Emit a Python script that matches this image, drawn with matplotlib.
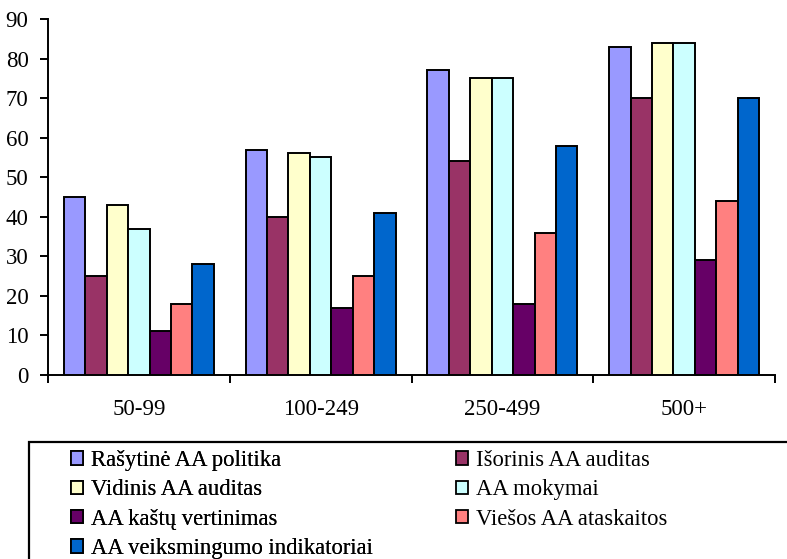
import matplotlib
matplotlib.use("Agg")
import matplotlib.pyplot as plt
import numpy as np
from matplotlib.patches import Rectangle, Patch

categories = ["50-99", "100-249", "250-499", "500+"]
series_names = ["Rašytinė AA politika", "Išorinis AA auditas", "Vidinis AA auditas",
                "AA mokymai", "AA kaštų vertinimas", "Viešos AA ataskaitos",
                "AA veiksmingumo indikatoriai"]
values = [
    [45, 57, 77, 83],
    [25, 40, 54, 70],
    [43, 56, 75, 84],
    [37, 55, 75, 84],
    [11, 17, 18, 29],
    [18, 25, 36, 44],
    [28, 41, 58, 70],
]
colors = ["#9999FF", "#993366", "#FFFFCC", "#CCFFFF", "#660066", "#FF8080", "#0066CC"]
yticks = [0, 10, 20, 30, 40, 50, 60, 70, 80, 90]

plt.rcParams['font.family'] = ['Liberation Serif', 'DejaVu Serif']

W, H = 787, 559
fig = plt.figure(figsize=(W/100, H/100), dpi=100)
ax = fig.add_axes([48/W, 1-375/H, (775-48)/W, (375-19)/H])

n = len(values)
bw = 0.118
x = np.arange(len(categories))
for i, (vals, c) in enumerate(zip(values, colors)):
    off = (i - (n-1)/2) * bw
    ax.bar(x + off, vals, width=bw, color=c, edgecolor='black', linewidth=1.4, zorder=3)

ax.set_xlim(-0.5, len(categories)-0.5)
ax.set_ylim(0, 90)
ax.set_yticks(yticks)
ax.set_xticks(x)
ax.set_xticklabels(categories, fontsize=16.5)
ax.set_xticks(np.arange(-0.5, len(categories)), minor=True)
ax.tick_params(axis='x', which='major', length=0, pad=17)
ax.tick_params(axis='x', which='minor', length=6, width=1.4, direction='out')
ax.tick_params(axis='y', length=6, width=1.4, direction='out', labelsize=16.5, pad=8)
for s in ['top', 'right']:
    ax.spines[s].set_visible(False)
for s in ['left', 'bottom']:
    ax.spines[s].set_linewidth(1.4)

# legend frame
fig.patches.append(Rectangle((29/W, -0.05), 1.0, 1-442/H+0.05, transform=fig.transFigure,
                             fill=False, edgecolor='black', linewidth=1.6))

handles = [Patch(facecolor=c, edgecolor='black', linewidth=1.3) for c in colors]
fs = 16.3
kw = dict(loc='upper left', frameon=False, fontsize=fs, handlelength=0.53,
          handleheight=0.53, handletextpad=0.35, labelspacing=0.37,
          borderaxespad=0, borderpad=0)
col1 = [0, 2, 4, 6]
col2 = [1, 3, 5]
leg1 = fig.legend([handles[i] for i in col1], [series_names[i] for i in col1],
                  bbox_to_anchor=(71/W, 1-450/H), **kw)
fig.add_artist(leg1)
fig.legend([handles[i] for i in col2], [series_names[i] for i in col2],
           bbox_to_anchor=(456/W, 1-450/H), **kw)

fig.savefig("out.png", dpi=100)
